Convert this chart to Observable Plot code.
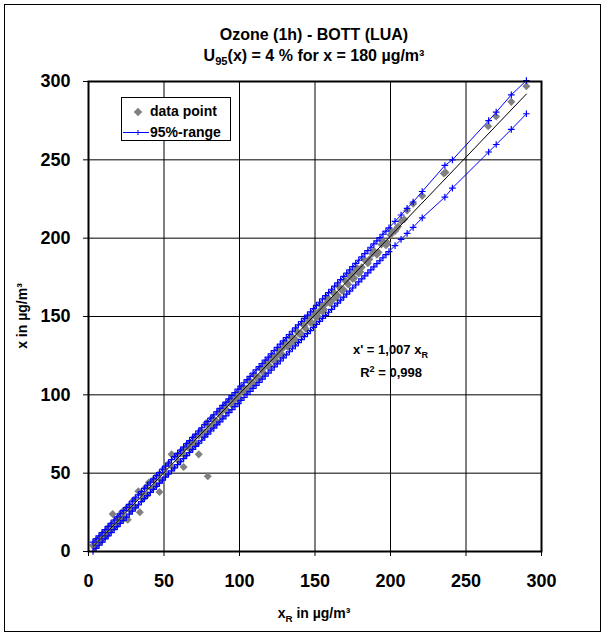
<!DOCTYPE html>
<html><head><meta charset="utf-8">
<script src="https://cdn.jsdelivr.net/npm/d3@7"></script>
<script src="https://cdn.jsdelivr.net/npm/@observablehq/plot@0.6"></script>
<style>
body{margin:0;background:#fff;font-family:Arial,"Liberation Sans",sans-serif;}
#wrap{position:relative;width:605px;height:635px;overflow:hidden;}
.frame{position:absolute;left:4px;top:4px;width:597px;height:628px;border:1px solid #000;box-sizing:border-box;pointer-events:none;}
.t{position:absolute;font-weight:bold;color:#000;white-space:nowrap;}
.title{left:0;width:628px;text-align:center;font-size:16px;}
sub,sup{font-size:70%;line-height:0;}
.legend{position:absolute;left:121px;top:97px;width:110px;height:44px;border:1px solid #000;background:#fff;box-sizing:border-box;}
</style></head>
<body>
<div id="wrap">
<div id="chart"></div>
<div class="frame"></div>
<div class="t title" style="top:26px">Ozone (1h) - BOTT (LUA)</div>
<div class="t title" style="top:47px">U<sub>95</sub>(x) = 4 % for x = 180 µg/m³</div>
<div class="t" style="left:0;width:628px;text-align:center;top:605px;font-size:14px">x<sub>R</sub> in µg/m³</div>
<div class="t" style="left:22px;top:316px;font-size:14px;transform:translate(-50%,-50%) rotate(-90deg)">x in µg/m³</div>
<div class="t" style="right:177px;top:342px;font-size:13px">x' = 1,007 x<sub>R</sub></div>
<div class="t" style="right:183px;top:365px;font-size:13px">R<sup>2</sup> = 0,998</div>
<div class="legend">
  <svg width="110" height="44" style="position:absolute;left:0;top:0">
    <rect x="13" y="11" width="6" height="6" fill="#808080" transform="rotate(45 16 14)"></rect>
    <line x1="1" x2="27" y1="34.5" y2="34.5" stroke="#0000ff" stroke-width="1"></line>
    <line x1="16" x2="16" y1="32" y2="37" stroke="#0000ff" stroke-width="1"></line>
  </svg>
  <div class="t" style="left:28px;top:5px;font-size:14px">data point</div>
  <div class="t" style="left:28px;top:26px;font-size:14px">95%-range</div>
</div>
</div>
<script>
// ticks
const xTicks = [0, 50, 100, 150, 200, 250, 300];
const yTicks = [0, 50, 100, 150, 200, 250, 300];

// data points: reference xR and candidate x
const xRef = [3,4,5,6,7,8,9,10,11,12,13,14,15,16,17,18,19,20,21,22,24,25,26,27,28,30,31,33,34,35,36,38,39,40,42,43,45,46,47,48,50,52,53,55,56,58,60,62,63,64,66,68,70,72,73,74,76,78,79,80,82,84,86,88,90,92,94,96,98,100,102,104,106,108,110,112,114,116,118,120,122,124,126,128,130,132,134,136,138,140,142,144,146,148,150,152,154,156,158,160,162,164,166,168,170,172,174,176,178,180,183,186,189,192,195,198,201,204,207,211,215,221,235.3,236.4,264.7,270,280,290,
  61,63,65,67,69,71,73,75,77,79,81,83,85,87,89,91,93,95,97,99,101,103,105,107,109,111,113,115,117,119,121,123,125,127,129,131,133,135,137,139,141,143,145,147,149,151,153,155,157,159,161,163,165,167,169,171,173,175,177,179,181,185,188,191,194,197,200,203,205,209];
const xCand = [4,2.5,7,4.5,8.5,6,11,9,12.5,10,15,13,17,24,15.5,20,17,22,19.5,25,21,27.5,20.2,29,26,33,28.5,38.5,25,37,33.5,41,36,44,40,46,42.5,49,38,45.5,53,49.5,56,62,53.5,61,57.5,65,54,61.5,69,65.5,73,69,62,77,73.5,82,48,78,85.5,81.5,89,86,93,90,97,94.5,100.5,98,104.5,102,109,106,112.5,110,117,114,121,118.5,124,122,128.5,126,133,130.5,136.5,134,140.5,138.5,145,142,149,146,152.5,150,157,154.5,161,158.5,165,162,169,166.5,173,170.5,177,174.5,181,178.5,186,186.5,192,191,198,197,204,206,211,217.6,222,227,241.3,242,271.5,277.6,287,297,
  62.5,62,67,65.5,69.5,69,74,76.5,76,81,79.5,83.5,83,88,90.5,90,95,93.5,97.5,97,102,104.5,104,109,107.5,111.5,111,116,118.5,118,123,121.5,125.5,125,130,133.5,132,137,135.5,139.5,139,144,147.5,146,151,149.5,153.5,153,158,161.5,160,165,163.5,167.5,167,172,175.5,174,179,177.5,181.5,184,190,189.5,196,195.5,202,204.5,207.5,212];

// 95% range lines
const rangeX = [3,5,7,9,11,13,15,17,19,21,23,25,27,29,31,33,35,37,39,41,43,45,47,49,51,53,55,57,59,61,63,65,67,69,71,73,75,77,79,81,83,85,87,89,91,93,95,97,99,101,103,105,107,109,111,113,115,117,119,121,123,125,127,129,131,133,135,137,139,141,143,145,147,149,151,153,155,157,159,161,163,165,167,169,171,173,175,177,179,181,183,185,187,189,191,193,195,197,199,203,207,211,215,221,236,241,265,270,280,290];
const rangeUpper = [6.0,8.0,10.0,12.0,14.0,16.0,18.0,20.1,22.1,24.1,26.1,28.1,30.1,32.2,34.2,36.2,38.2,40.3,42.3,44.3,46.4,48.4,50.4,52.5,54.5,56.5,58.6,60.6,62.6,64.7,66.7,68.8,70.8,72.8,74.9,76.9,79.0,81.0,83.1,85.1,87.2,89.2,91.3,93.3,95.4,97.4,99.5,101.5,103.6,105.6,107.7,109.7,111.8,113.9,115.9,118.0,120.0,122.1,124.1,126.2,128.2,130.3,132.4,134.4,136.5,138.5,140.6,142.7,144.7,146.8,148.8,150.9,153.0,155.0,157.1,159.1,161.2,163.3,165.3,167.4,169.4,171.5,173.6,175.6,177.7,179.8,181.8,183.9,185.9,188.0,190.1,192.1,194.2,196.3,198.3,200.4,202.5,204.5,206.6,210.7,214.8,219.0,223.1,229.8,246.4,250.0,275.0,280.4,291.5,300.6];
const rangeLower = [0.0,2.0,4.0,6.0,8.0,10.0,12.0,13.9,15.9,17.9,19.9,21.9,23.9,25.8,27.8,29.8,31.8,33.7,35.7,37.7,39.6,41.6,43.6,45.5,47.5,49.5,51.4,53.4,55.4,57.3,59.3,61.2,63.2,65.2,67.1,69.1,71.0,73.0,74.9,76.9,78.8,80.8,82.7,84.7,86.6,88.6,90.5,92.5,94.4,96.4,98.3,100.3,102.2,104.1,106.1,108.0,110.0,111.9,113.9,115.8,117.8,119.7,121.6,123.6,125.5,127.5,129.4,131.3,133.3,135.2,137.2,139.1,141.0,143.0,144.9,146.9,148.8,150.7,152.7,154.6,156.6,158.5,160.4,162.4,164.3,166.2,168.2,170.1,172.1,174.0,175.9,177.9,179.8,181.7,183.7,185.6,187.5,189.5,191.4,195.3,199.2,203.0,206.9,213.0,226.2,232.0,255.0,259.8,269.4,279.4];

// regression line x' = 1,007 xR
const trendX = [3, 290];
const trendY = [3.02, 292.0];

const points = xRef.map((v, i) => ({xr: v, x: xCand[i]}));
const upper = rangeX.map((v, i) => ({xr: v, x: rangeUpper[i]}));
const lower = rangeX.map((v, i) => ({xr: v, x: rangeLower[i]}));
const trend = trendX.map((v, i) => ({xr: v, x: trendY[i]}));

const blue = "#0000ff";
const chart = Plot.plot({
  width: 605, height: 635,
  marginLeft: 88, marginRight: 64, marginTop: 81, marginBottom: 84,
  style: {fontFamily: "Arial, 'Liberation Sans', sans-serif", fontSize: "18px", fontWeight: "bold", background: "#fff", color: "#000"},
  x: {domain: [0, 300]},
  y: {domain: [0, 300]},
  marks: [
    Plot.gridX(xTicks, {stroke: "#000", strokeOpacity: 1, strokeWidth: 1}),
    Plot.gridY(yTicks, {stroke: "#000", strokeOpacity: 1, strokeWidth: 1}),
    Plot.dot(points, {x: "xr", y: "x", symbol: "square", rotate: 45, r: 3.2, fill: "#808080", stroke: "none"}),
    Plot.line(upper, {x: "xr", y: "x", stroke: blue, strokeWidth: 1}),
    Plot.line(lower, {x: "xr", y: "x", stroke: blue, strokeWidth: 1}),
    Plot.dot(upper, {x: "xr", y: "x", symbol: "plus", r: 2.3, stroke: blue, strokeWidth: 1.2}),
    Plot.dot(lower, {x: "xr", y: "x", symbol: "plus", r: 2.3, stroke: blue, strokeWidth: 1.2}),
    Plot.line(trend, {x: "xr", y: "x", stroke: "#000", strokeWidth: 1}),
    Plot.frame({stroke: "#000", strokeWidth: 2}),
    Plot.axisX(xTicks, {tickSize: 5, tickPadding: 18, label: null, fontSize: 18, fontWeight: "bold"}),
    Plot.axisY(yTicks, {tickSize: 5, tickPadding: 13, label: null, fontSize: 18, fontWeight: "bold"})
  ]
});
document.getElementById("chart").appendChild(chart);
</script>
</body></html>
